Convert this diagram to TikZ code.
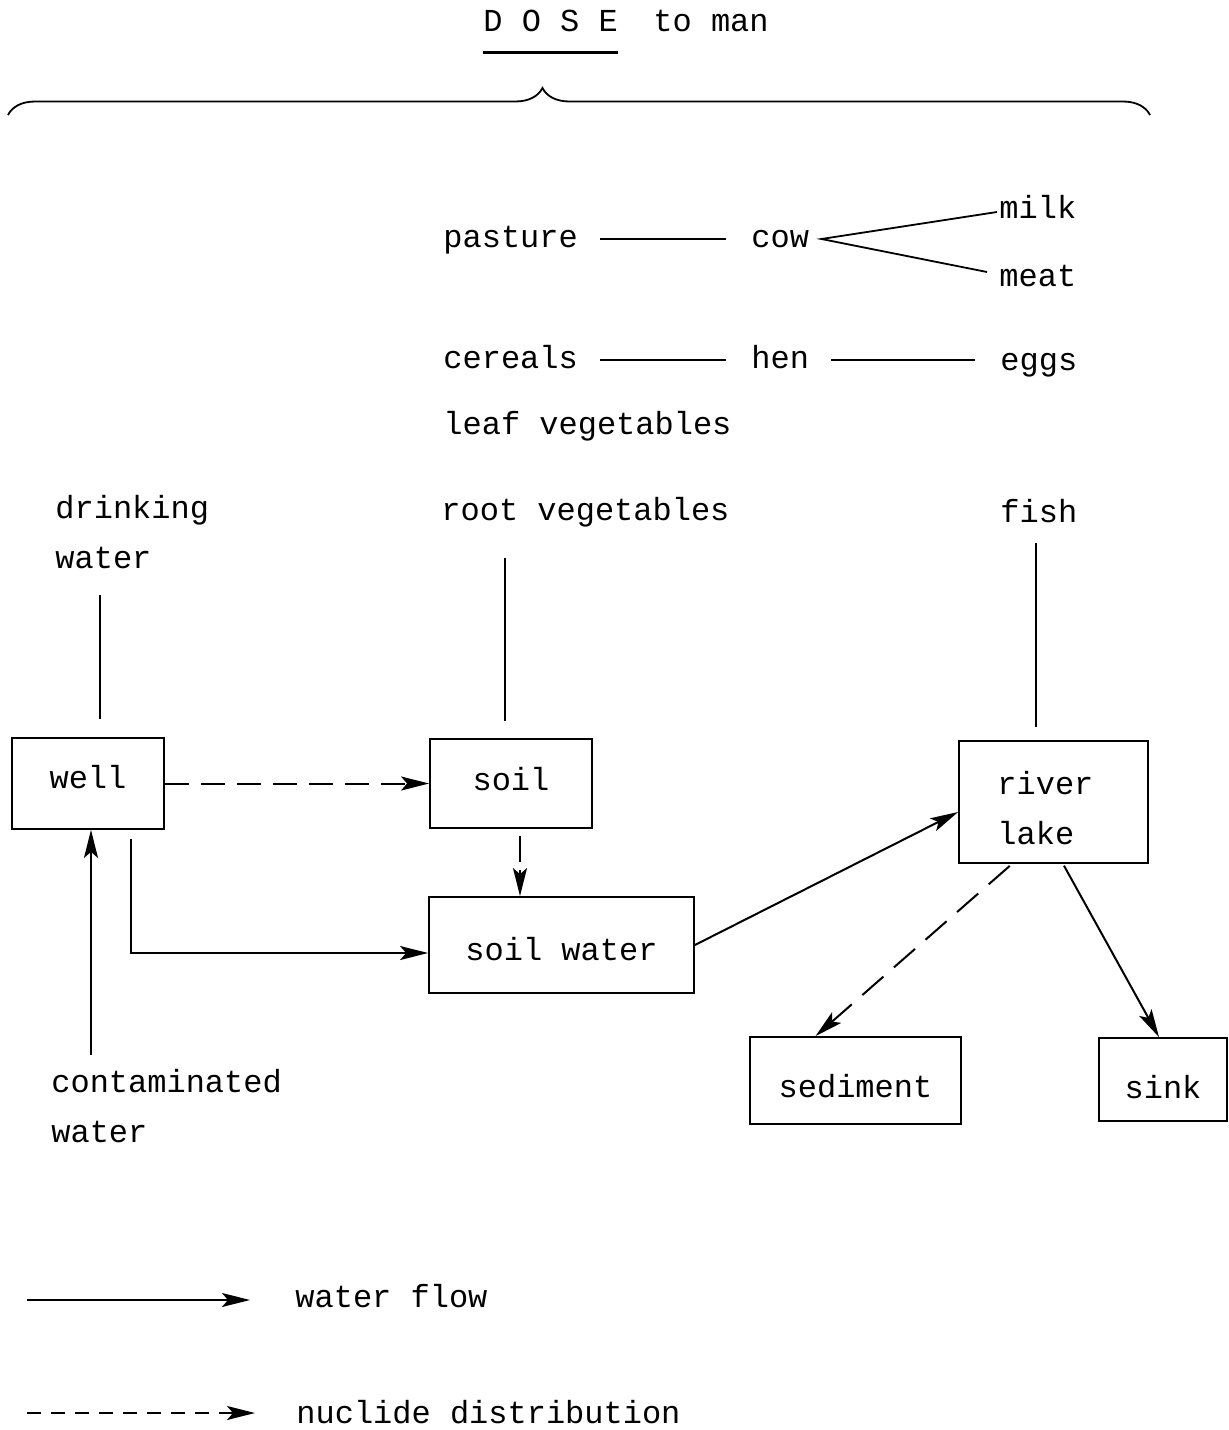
\documentclass[tikz,border=0pt]{standalone}
\usepackage{fontspec}
\setmonofont{Liberation Mono}
\usetikzlibrary{arrows.meta,decorations.pathreplacing}

\begin{document}
\begin{tikzpicture}[x=0.5pt, y=-0.5pt,
    every node/.style={font=\ttfamily\fontsize{16}{25}\selectfont},
    lbl/.style={inner sep=0pt, anchor=west, text height=12pt, text depth=4pt},
    lines/.style={inner sep=0pt, anchor=north west, align=left},
    box/.style={draw, line width=0.9pt, inner sep=0pt, text depth=0pt},
    tie/.style={line width=0.9pt, shorten <=11pt, shorten >=12.5pt},
    flow/.style={line width=1pt, -{Stealth[length=14pt, width=7pt, inset=3pt]}},
    spread/.style={flow, dash pattern=on 12pt off 6pt}]
  \useasboundingbox (0,0) rectangle (1228,1430);

  \node[lbl] (dose)  at (483,23) {D O S E};
  \node[lbl] (toman) at (653,23) {to man};
  \draw[line width=1.1pt] ([yshift=-6.5pt]dose.south west) -- ([yshift=-6.5pt]dose.south east);
  \draw[line width=0.9pt, decorate, decoration={brace, amplitude=13.5pt, aspect=0.468}]
    (8,115) -- (1150,115);

  \node[lbl] (pasture) at (443,239) {pasture};
  \node[lbl] (cow)     at (751,239) {cow};
  \node[lbl] (milk)    at (999,210) {milk};
  \node[lbl] (meat)    at (999,278) {meat};
  \node[lbl] (cereals) at (443,360) {cereals};
  \node[lbl] (hen)     at (751,360) {hen};
  \node[lbl] (eggs)    at (1000,362) {eggs};
  \node[lbl] (leafveg) at (443,426) {leaf vegetables};
  \node[lbl] (rootveg) at (441,512) {root vegetables};
  \node[lbl] (fish)    at (1000,514) {fish};
  \node[lines] (drink)  at (55,495)  {drinking\\water};
  \node[lines] (contam) at (51,1069) {contaminated\\water};

  \node[box, minimum width=76pt,   minimum height=45.5pt, text height=4.5pt]  (well)      at (88,783.5)    {well};
  \node[box, minimum width=81pt,   minimum height=44.5pt, text height=6.5pt]  (soil)      at (511,783.5)   {soil};
  \node[box, minimum width=132.5pt,minimum height=48pt,   text height=15pt]   (soilwater) at (561.5,945)   {soil water};
  \node[box, minimum width=94.5pt, minimum height=61pt]                       (river)     at (1053.5,802)  {};
  \node[lines] (rivertext) at (997,771) {river\\lake};
  \node[box, minimum width=105.5pt,minimum height=43.5pt, text height=16.5pt] (sediment)  at (855.5,1080.5){sediment};
  \node[box, minimum width=64pt,   minimum height=41.5pt, text height=18.5pt] (sink)      at (1163,1079.5) {sink};

  \draw[tie] (pasture.east) -- (cow.west);
  \draw[tie] (cereals.east) -- (hen.west);
  \draw[tie] (hen.east) -- (hen.east -| eggs.west);
  \coordinate (fork) at ([xshift=6pt]cow.east);
  \draw[line width=0.9pt] ([xshift=-1pt,yshift=-1pt]milk.west) -- (fork) -- ([xshift=-6pt,yshift=3pt]meat.west);

  \draw[line width=0.9pt, shorten <=13pt, shorten >=9pt]
    ([xshift=6pt]well.north |- drink.south) -- ([xshift=6pt]well.north);
  \draw[line width=0.9pt, shorten <=15pt, shorten >=8.5pt]
    ([xshift=-3pt]soil.north |- rootveg.south) -- ([xshift=-3pt]soil.north);
  \draw[line width=0.9pt, shorten <=6.5pt, shorten >=6.5pt]
    ([xshift=-8.75pt]river.north |- fish.south) -- ([xshift=-8.75pt]river.north);

  \draw[spread] (well.east) -- (soil.west);
  \draw[flow, dash pattern=on 13pt off 4pt, shorten <=3.5pt]
    ([xshift=4.5pt]soil.south) -- ([xshift=4.5pt]soil.south |- soilwater.north);
  \draw[flow, shorten <=4.5pt] ([xshift=21.5pt]well.south) |- ([yshift=-4pt]soilwater.west);
  \draw[flow] ([xshift=1.5pt,yshift=7pt]well.south |- contam.north) -- ([xshift=1.5pt]well.south);
  \draw[flow] (soilwater.east) -- ([yshift=-5pt]river.west);
  \draw[flow, dash pattern=on 14pt off 7pt, shorten <=1.5pt]
    ([xshift=-20.75pt]river.south) -- ([xshift=-20pt]sediment.north);
  \draw[flow, shorten <=1pt] ([xshift=4.75pt]river.south) -- ([xshift=-2pt]sink.north);

  \coordinate (flow tail) at (27,1300);
  \node[lbl] (flowkey) at (295,1299) {water flow};
  \draw[flow, shorten >=22.5pt] (flow tail) -- (flow tail -| flowkey.west);
  \coordinate (spread tail) at (27,1413);
  \node[lbl] (spreadkey) at (296,1415) {nuclide distribution};
  \draw[flow, dash pattern=on 7pt off 5pt, shorten >=20.5pt] (spread tail) -- (spread tail -| spreadkey.west);
\end{tikzpicture}
\end{document}
